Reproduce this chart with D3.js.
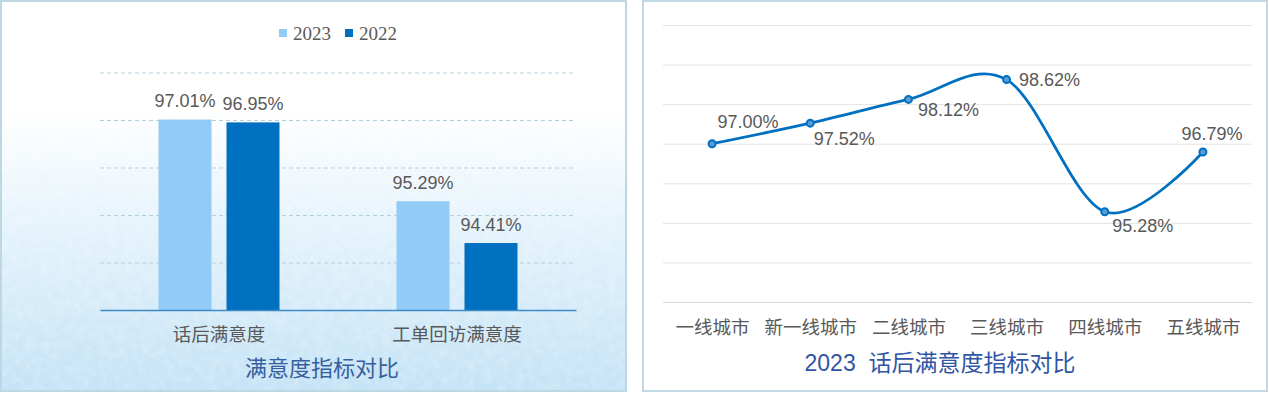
<!DOCTYPE html>
<html>
<head>
<meta charset="utf-8">
<script src="https://cdn.jsdelivr.net/npm/d3@7"></script>
<style>
  html, body { margin: 0; padding: 0; background: #ffffff; }
  svg { display: block; }
</style>
</head>
<body>
<div id="chart"></div>
<script>
// 左图：满意度指标对比
const barCategories = ["话后满意度", "工单回访满意度"];
const barSeries = ["2023", "2022"];
const values2023 = [97.01, 95.29];
const values2022 = [96.95, 94.41];
const barTicks = [93, 94, 95, 96, 97, 98];

// 右图：2023 话后满意度指标对比
const cities = ["一线城市", "新一线城市", "二线城市", "三线城市", "四线城市", "五线城市"];
const cityValues = [97.00, 97.52, 98.12, 98.62, 95.28, 96.79];
const lineTicks = [93, 94, 95, 96, 97, 98, 99, 100];

// 标签相对数据点的偏移 (dx, dy)
const labelOffsets = [[36, -22], [34, 16], [40, 10], [43, 0], [38, 14], [9, -18]];

const W = 1269, H = 393;
const fontNum = "'Liberation Sans', Arial, 'Noto Sans CJK SC', sans-serif";
const fontCjk = "'Noto Sans CJK SC', 'Liberation Sans', sans-serif";
const grey = "#595959";

const svg = d3.select("#chart").append("svg")
  .attr("width", W)
  .attr("height", H);

const defs = svg.append("defs");
const grad = defs.append("linearGradient")
  .attr("id", "bg")
  .attr("x1", 0).attr("y1", 0).attr("x2", 0).attr("y2", 1);
grad.append("stop").attr("offset", "0%").attr("stop-color", "#ffffff");
grad.append("stop").attr("offset", "28%").attr("stop-color", "#ffffff");
grad.append("stop").attr("offset", "60%").attr("stop-color", "#e3f2fb");
grad.append("stop").attr("offset", "100%").attr("stop-color", "#c4e3f6");

// 纸张纹理
const noise = defs.append("filter").attr("id", "paper")
  .attr("x", 0).attr("y", 0).attr("width", "100%").attr("height", "100%");
noise.append("feTurbulence")
  .attr("type", "fractalNoise")
  .attr("baseFrequency", 0.12)
  .attr("numOctaves", 4)
  .attr("seed", 5);
noise.append("feColorMatrix")
  .attr("type", "matrix")
  .attr("values", "0 0 0 0 1  0 0 0 0 1  0 0 0 0 1  0 0 0 -2 1.3");

// ---------------- 左图 ----------------
const left = svg.append("g");
left.append("rect")
  .attr("x", 1).attr("y", 1).attr("width", 625).attr("height", 390)
  .attr("fill", "url(#bg)");
left.append("rect")
  .attr("x", 1).attr("y", 1).attr("width", 625).attr("height", 390)
  .attr("fill", "#fff")
  .attr("filter", "url(#paper)")
  .attr("opacity", 0.22);
left.append("rect")
  .attr("x", 1).attr("y", 1).attr("width", 625).attr("height", 390)
  .attr("fill", "none")
  .attr("stroke", "#bdd7e3")
  .attr("stroke-width", 2);

const x0 = d3.scaleBand().domain(barCategories).range([100, 576]);
const x1 = d3.scaleBand().domain(barSeries).range([-60.5, 60.5]).paddingInner(0.2206);
const yBar = d3.scaleLinear().domain([93, 98]).range([310, 72.5]);

// 虚线网格
left.append("g")
  .call(d3.axisLeft(yBar).tickValues(barTicks.slice(1)).tickSize(-476).tickFormat(""))
  .attr("transform", "translate(100,0)")
  .call(g => g.select(".domain").remove())
  .call(g => g.selectAll(".tick line")
    .attr("stroke", "#b5d0dc")
    .attr("stroke-dasharray", "4,3"));

const barColors = { "2023": "#92cbf5", "2022": "#0070c0" };
const barData = barCategories.map((c, i) => ({
  cat: c,
  vals: [{ s: "2023", v: values2023[i] }, { s: "2022", v: values2022[i] }]
}));

const groups = left.selectAll(".grp")
  .data(barData)
  .join("g")
  .attr("transform", d => "translate(" + (x0(d.cat) + x0.bandwidth() / 2) + ",0)");

groups.selectAll("rect")
  .data(d => d.vals)
  .join("rect")
  .attr("x", d => x1(d.s))
  .attr("width", x1.bandwidth())
  .attr("y", d => yBar(d.v))
  .attr("height", d => yBar(93) - yBar(d.v))
  .attr("fill", d => barColors[d.s]);

groups.selectAll("text")
  .data(d => d.vals)
  .join("text")
  .attr("x", d => x1(d.s) + x1.bandwidth() / 2)
  .attr("y", d => yBar(d.v) - 12.5)
  .attr("text-anchor", "middle")
  .attr("font-family", fontNum)
  .attr("font-size", 18)
  .attr("fill", grey)
  .text(d => d.v.toFixed(2) + "%");

// x 轴
const xAxisL = left.append("g")
  .attr("transform", "translate(0,310)")
  .call(d3.axisBottom(x0).tickSize(0).tickPadding(0));
xAxisL.select(".domain").attr("stroke", "#3f8ac6").attr("stroke-width", 1.5);
xAxisL.selectAll(".tick text")
  .attr("y", 25)
  .attr("dy", "0.35em")
  .attr("font-family", fontCjk)
  .attr("font-size", 18.5)
  .attr("fill", grey);

// 图例
const legend = left.append("g");
const legendX = [279, 345];
barSeries.forEach((s, i) => {
  legend.append("rect")
    .attr("x", legendX[i]).attr("y", 29)
    .attr("width", 8).attr("height", 8)
    .attr("fill", barColors[s]);
  legend.append("text")
    .attr("x", legendX[i] + 14).attr("y", 40)
    .attr("font-family", "'Liberation Serif', 'Times New Roman', serif")
    .attr("font-size", 19)
    .attr("fill", grey)
    .text(s);
});

left.append("text")
  .attr("x", 322).attr("y", 368)
  .attr("dy", "0.35em")
  .attr("text-anchor", "middle")
  .attr("font-family", fontCjk)
  .attr("font-size", 22)
  .attr("fill", "#36609e")
  .text("满意度指标对比");

// ---------------- 右图 ----------------
const right = svg.append("g");
right.append("rect")
  .attr("x", 643).attr("y", 1).attr("width", 624).attr("height", 390)
  .attr("fill", "#ffffff")
  .attr("stroke", "#c3d9e4")
  .attr("stroke-width", 2);

const xLine = d3.scalePoint().domain(cities).range([663, 1252]).padding(0.5);
const yLine = d3.scaleLinear().domain([93, 100]).range([302, 25]);

right.append("g")
  .attr("transform", "translate(663,0)")
  .call(d3.axisLeft(yLine).tickValues(lineTicks).tickSize(-589).tickFormat(""))
  .call(g => g.select(".domain").remove())
  .call(g => g.selectAll(".tick line").attr("stroke", "#e3e3e3"));

const xAxisR = right.append("g")
  .attr("transform", "translate(0,302)")
  .call(d3.axisBottom(xLine).tickSize(0).tickPadding(0));
xAxisR.select(".domain").attr("stroke", "#d9d9d9");
xAxisR.selectAll(".tick text")
  .attr("y", 26)
  .attr("dy", "0.35em")
  .attr("font-family", fontCjk)
  .attr("font-size", 18.5)
  .attr("fill", grey);

const lineData = cities.map((c, i) => ({ c: c, v: cityValues[i], off: labelOffsets[i] }));

const line = d3.line()
  .x(d => xLine(d.c))
  .y(d => yLine(d.v))
  .curve(d3.curveCardinal.tension(0));

right.append("path")
  .datum(lineData)
  .attr("d", line)
  .attr("fill", "none")
  .attr("stroke", "#0070c0")
  .attr("stroke-width", 2.75);

right.selectAll(".pt")
  .data(lineData)
  .join("circle")
  .attr("cx", d => xLine(d.c))
  .attr("cy", d => yLine(d.v))
  .attr("r", 3.5)
  .attr("fill", "#5b9bd5")
  .attr("stroke", "#0070c0")
  .attr("stroke-width", 2);

right.selectAll(".lbl")
  .data(lineData)
  .join("text")
  .attr("x", d => xLine(d.c) + d.off[0])
  .attr("y", d => yLine(d.v) + d.off[1])
  .attr("dy", "0.35em")
  .attr("text-anchor", "middle")
  .attr("font-family", fontNum)
  .attr("font-size", 18)
  .attr("fill", grey)
  .text(d => d.v.toFixed(2) + "%");

right.append("text")
  .attr("x", 940).attr("y", 363)
  .attr("dy", "0.35em")
  .attr("text-anchor", "middle")
  .attr("font-family", fontNum)
  .attr("font-size", 23)
  .attr("fill", "#2f55a4")
  .text("2023\u00a0\u00a0话后满意度指标对比");
</script>
</body>
</html>
